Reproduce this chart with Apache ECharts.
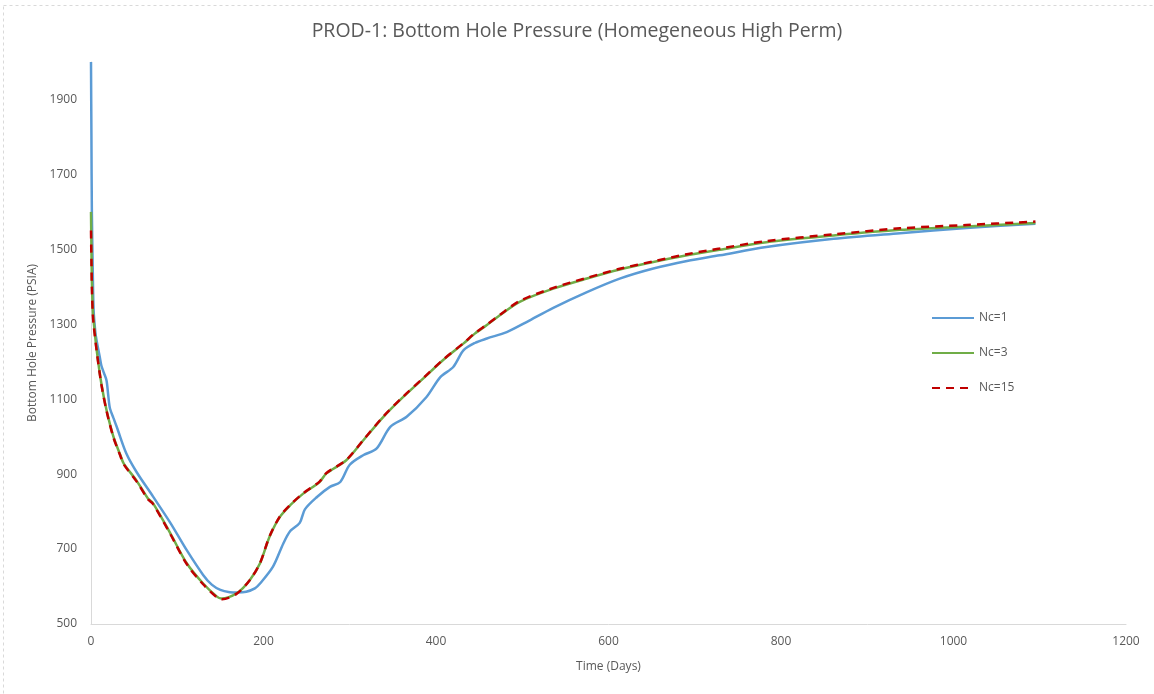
<!DOCTYPE html>
<html>
<head>
<meta charset="utf-8">
<script src="https://cdn.jsdelivr.net/npm/echarts@6/dist/echarts.min.js"></script>
<style>
html,body{margin:0;padding:0;background:#fff;}
#chart{width:1154px;height:694px;}
</style>
</head>
<body>
<div id="chart"></div>
<script>
var titleText = 'PROD-1: Bottom Hole Pressure (Homegeneous High Perm)';
var seriesNames = ['Nc=1', 'Nc=3', 'Nc=15'];
var xTicks = [0, 200, 400, 600, 800, 1000, 1200];
var yTicks = [500, 700, 900, 1100, 1300, 1500, 1700, 1900];

var daysNc1 = [0, 0.5, 1, 2, 3, 5, 7, 10, 12, 15, 18, 20, 22, 26, 30, 41, 53, 72, 92, 111, 130, 140, 150, 161, 170, 180, 190, 196, 211, 223, 231, 242, 248, 262, 277, 289, 300, 316, 331, 347, 366, 389, 405, 420, 432, 445, 459, 482, 505, 536, 575, 613, 652, 691, 729, 783, 861, 938, 1015, 1095];
var pressureNc1 = [2000, 1800, 1600, 1450, 1340, 1280, 1250, 1215, 1190, 1170, 1150, 1110, 1075, 1050, 1025, 955, 905, 840, 770, 697, 631, 605, 591, 585, 584, 586, 595, 608, 653, 715, 748, 770, 806, 839, 866, 879, 925, 951, 968, 1026, 1053, 1106, 1159, 1186, 1231, 1250, 1262, 1279, 1306, 1344, 1386, 1422, 1449, 1469, 1484, 1506, 1528, 1543, 1557, 1568];

var daysNc3 = [0, 0.5, 1, 2, 3, 6.6, 12, 18, 26, 34, 38, 53, 66, 72, 92, 111, 130, 146, 151, 169, 184, 196, 207, 219, 231, 246, 265, 273, 296, 316, 339, 362, 385, 408, 432, 445, 459, 474, 497, 536, 575, 613, 652, 691, 729, 783, 861, 938, 1015, 1095];
var pressureNc3 = [1600, 1500, 1420, 1340, 1310, 1231, 1142, 1071, 1000, 951, 928, 882, 835, 822, 742, 662, 608, 573, 568, 582, 617, 662, 733, 786, 817, 848, 879, 902, 937, 991, 1053, 1106, 1155, 1204, 1249, 1275, 1298, 1324, 1360, 1395, 1422, 1446, 1466, 1484, 1499, 1519, 1537, 1552, 1561, 1570];

var daysNc15 = [0, 0.5, 1, 2, 3, 6.6, 12, 18, 26, 34, 38, 53, 66, 72, 92, 111, 130, 146, 152, 169, 184, 196, 207, 219, 231, 246, 265, 273, 296, 316, 339, 362, 385, 408, 432, 445, 459, 474, 497, 536, 575, 613, 652, 691, 729, 783, 861, 938, 1015, 1095];
var pressureNc15 = [1550, 1470, 1400, 1330, 1300, 1228, 1140, 1069, 998, 949, 926, 880, 833, 820, 740, 660, 606, 571, 566, 581, 617, 663, 734, 787, 818, 849, 880, 903, 938, 992, 1054, 1107, 1156, 1205, 1250, 1276, 1299, 1325, 1362, 1397, 1424, 1448, 1468, 1487, 1502, 1522, 1540, 1556, 1565, 1574];

function zip(xs, ys) { return xs.map(function (x, i) { return [x, ys[i]]; }); }

var txt = '#595959';
var chart = echarts.init(document.getElementById('chart'), null, { renderer: 'canvas' });
chart.setOption({
  backgroundColor: '#ffffff',
  animation: false,
  title: {
    text: titleText, left: 'center', top: 16,
    textStyle: { fontFamily: 'Open Sans', fontSize: 19.5, fontWeight: 'normal', color: txt }
  },
  graphic: [{
    type: 'rect', shape: { x: 3.5, y: 5.5, width: 1200, height: 800 },
    style: { fill: 'none', stroke: '#d9d9d9', lineWidth: 1, lineDash: [3, 3] }, silent: true
  }],
  legend: {
    orient: 'vertical', left: 926, top: 307, itemWidth: 42, itemHeight: 14, itemGap: 23,
    itemStyle: { opacity: 0 },
    textStyle: { fontFamily: 'Open Sans', fontSize: 12, color: txt },
    data: seriesNames
  },
  grid: { left: 91, right: 28, top: 62, bottom: 70, containLabel: false },
  xAxis: {
    type: 'value', min: xTicks[0], max: xTicks[xTicks.length - 1], interval: 200,
    name: 'Time (Days)', nameLocation: 'middle', nameGap: 37,
    nameTextStyle: { fontFamily: 'Open Sans', fontSize: 12, color: txt },
    axisLine: { lineStyle: { color: '#d9d9d9', width: 1 } },
    axisTick: { show: false }, splitLine: { show: false },
    axisLabel: { fontFamily: 'Open Sans', fontSize: 12, color: txt, margin: 12,
      formatter: function (v) { return String(v); } }
  },
  yAxis: {
    type: 'value', min: yTicks[0], max: 2000, interval: 200,
    name: 'Bottom Hole Pressure (PSIA)', nameLocation: 'middle', nameGap: 43, nameRotate: 90,
    nameTextStyle: { fontFamily: 'Open Sans', fontSize: 12, color: txt },
    axisLine: { show: true, lineStyle: { color: '#d9d9d9', width: 1 } },
    axisTick: { show: false }, splitLine: { show: false },
    axisLabel: { fontFamily: 'Open Sans', fontSize: 12, color: txt, margin: 14, showMaxLabel: false,
      formatter: function (v) { return yTicks.indexOf(v) >= 0 ? String(v) : ''; } }
  },
  series: [
    { name: seriesNames[0], type: 'line', data: zip(daysNc1, pressureNc1), symbol: 'none', smooth: 0.3,
      lineStyle: { color: '#5b9bd5', width: 2.5 }, itemStyle: { color: '#5b9bd5' } },
    { name: seriesNames[1], type: 'line', data: zip(daysNc3, pressureNc3), symbol: 'none', smooth: 0.3,
      lineStyle: { color: '#70ad47', width: 2.5 }, itemStyle: { color: '#70ad47' } },
    { name: seriesNames[2], type: 'line', data: zip(daysNc15, pressureNc15), symbol: 'none', smooth: 0.3,
      lineStyle: { color: '#c00000', width: 2.5, type: [8, 6] }, itemStyle: { color: '#c00000' } }
  ]
});
</script>
</body>
</html>
